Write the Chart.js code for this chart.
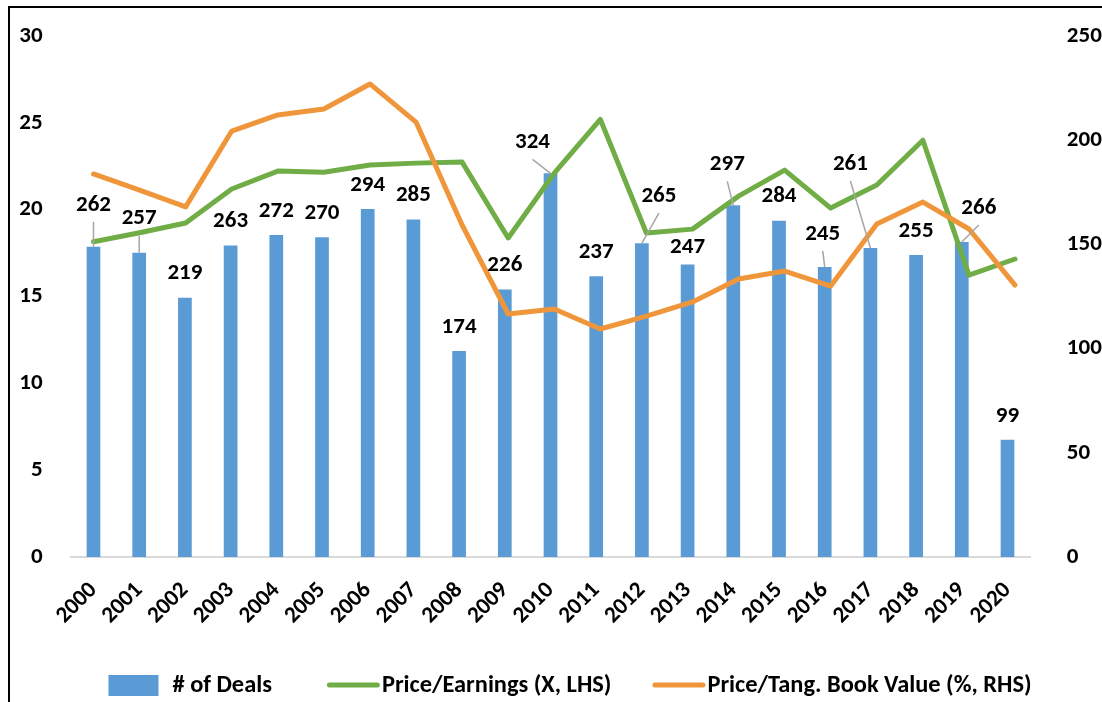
<!DOCTYPE html>
<html>
<head>
<meta charset="utf-8">
<title>Deals and valuation multiples</title>
<script src="https://cdn.jsdelivr.net/npm/chart.js@4.4.1/dist/chart.umd.min.js"></script>
<style>
    html, body { margin: 0; padding: 0; background: #fff; overflow: hidden; }
    .frame {
        position: absolute;
        left: 8px;
        top: 6px;
        width: 1130px;
        height: 720px;
        border-left: 2px solid #000;
        border-top: 2px solid #000;
    }
    #dealsChart { position: absolute; left: 0; top: 0; }
</style>
</head>
<body>
<div class="frame">
    <canvas id="dealsChart" width="1120" height="694"></canvas>
</div>
<script>
const years = ["2000", "2001", "2002", "2003", "2004", "2005", "2006", "2007", "2008", "2009", "2010",
    "2011", "2012", "2013", "2014", "2015", "2016", "2017", "2018", "2019", "2020"];
const deals = [262, 257, 219, 263, 272, 270, 294, 285, 174, 226, 324, 237, 265, 247, 297, 284, 245, 261, 255, 266, 99];
const priceEarnings = [18.15, 18.67, 19.23, 21.19, 22.22, 22.16, 22.57, 22.68, 22.74, 18.37, 22.1,
    25.2, 18.65, 18.88, 20.78, 22.28, 20.09, 21.42, 24.0, 16.23, 17.16];
const priceTangBook = [183.8, 176, 168, 204.4, 212.1, 215, 227, 208.7, 159.3, 116.6, 119,
    109.4, 115.6, 122.4, 133.4, 137.2, 130, 159.8, 170.3, 157.4, 130.5];
const seriesNames = ["# of Deals", "Price/Earnings (X, LHS)", "Price/Tang. Book Value (%, RHS)"];

// where each deal-count label sits relative to its bar: [dx, dy, leader line]
const labelNudge = [
    [0, -18, true], [0, -10, true], [0, 0, false], [0, 0, false], [0, 0, false], [0, 0, false],
    [0, 0, false], [0, 0, false], [0, 0, false], [0, 0, false], [-18, -7, true], [0, 0, false],
    [17, -23, true], [0, 7, false], [-6, -17, true], [0, 0, false], [-2, -9, true], [-20, -60, true],
    [0, 0, false], [17, -10, true], [0, 0, false]
];

const barColor = "#5B9BD5";
const greenColor = "#70AD47";
const orangeColor = "#F0963A";
const fontSize = 23;
const labelFont = `bold ${fontSize}px Carlito`;
const legendFont = "bold 24.4px Carlito";

Chart.defaults.font.family = "Carlito";
Chart.defaults.font.size = fontSize;
Chart.defaults.font.weight = "bold";
Chart.defaults.color = "#000";

const barLabels = {
    id: "barLabels",
    afterDatasetsDraw(chart) {
        const ctx = chart.ctx;
        const meta = chart.getDatasetMeta(0);
        ctx.save();
        ctx.font = labelFont;
        ctx.textAlign = "center";
        ctx.textBaseline = "middle";
        meta.data.forEach((bar, i) => {
            const [dx, dy, leader] = labelNudge[i];
            const lx = bar.x + dx;
            const ly = bar.y - 25 + dy;
            if (leader) {
                ctx.strokeStyle = "#a6a6a6";
                ctx.lineWidth = 1.5;
                ctx.beginPath();
                ctx.moveTo(lx, ly + 18);
                ctx.lineTo(bar.x, bar.y);
                ctx.stroke();
            }
            ctx.fillStyle = "#000";
            ctx.fillText(String(deals[i]), lx, ly + 1);
        });
        ctx.restore();
    }
};

// Excel-style legend along the bottom edge
const bottomLegend = {
    id: "bottomLegend",
    afterDraw(chart) {
        const ctx = chart.ctx;
        const y = 677;
        const gaps = [55, 41];
        ctx.save();
        ctx.font = legendFont;
        ctx.textBaseline = "middle";
        ctx.textAlign = "left";

        const items = chart.data.datasets.map((ds) => {
            const isBar = ds.type === "bar";
            const symbolW = isBar ? 50 : 53;
            const textGap = isBar ? 14 : 2;
            const textW = ctx.measureText(ds.label).width;
            return { ds, isBar, symbolW, textGap, width: symbolW + textGap + textW };
        });
        const total = items.reduce((s, it) => s + it.width, 0) + gaps[0] + gaps[1];
        let x = chart.width / 2 - total / 2;

        items.forEach((it, i) => {
            if (it.isBar) {
                ctx.fillStyle = it.ds.backgroundColor;
                ctx.fillRect(x, y - 10, it.symbolW, 21);
            } else {
                ctx.strokeStyle = it.ds.borderColor;
                ctx.lineWidth = 5;
                ctx.lineCap = "round";
                ctx.beginPath();
                ctx.moveTo(x + 2.5, y);
                ctx.lineTo(x + it.symbolW - 2.5, y);
                ctx.stroke();
            }
            ctx.fillStyle = "#000";
            ctx.fillText(it.ds.label, x + it.symbolW + it.textGap, y + 1);
            x += it.width + (gaps[i] || 0);
        });
        ctx.restore();
    }
};

// fixed axis sizes so the plot area lands where the original one is
function fixWidth(width) {
    return (scale) => {
        scale.width = width;
        scale.paddingTop = 0;
        scale.paddingBottom = 0;
    };
}

const ctx = document.getElementById("dealsChart").getContext("2d");
new Chart(ctx, {
    data: {
        labels: years,
        datasets: [
            {
                type: "bar",
                label: seriesNames[0],
                data: deals,
                backgroundColor: barColor,
                xAxisID: "x",
                yAxisID: "yDeals",
                grouped: false,
                barPercentage: 0.3,
                categoryPercentage: 1,
                order: 3,
            },
            {
                type: "line",
                label: seriesNames[1],
                data: priceEarnings.map((v, i) => ({ x: i, y: v })),
                borderColor: greenColor,
                backgroundColor: greenColor,
                borderWidth: 5,
                borderJoinStyle: "round",
                borderCapStyle: "round",
                pointRadius: 0,
                tension: 0,
                xAxisID: "xLine",
                yAxisID: "y",
                order: 2,
            },
            {
                type: "line",
                label: seriesNames[2],
                data: priceTangBook.map((v, i) => ({ x: i, y: v })),
                borderColor: orangeColor,
                backgroundColor: orangeColor,
                borderWidth: 5,
                borderJoinStyle: "round",
                borderCapStyle: "round",
                pointRadius: 0,
                tension: 0,
                xAxisID: "xLine",
                yAxisID: "y2",
                order: 1,
            },
        ],
    },
    options: {
        responsive: false,
        animation: false,
        layout: { padding: { top: 28, bottom: 40, left: 0, right: 0 } },
        plugins: {
            legend: { display: false },
            tooltip: { enabled: false },
        },
        scales: {
            x: {
                type: "category",
                offset: true,
                grid: { display: false },
                border: { display: true, color: "#d9d9d9", width: 2 },
                ticks: { autoSkip: false, minRotation: 45, maxRotation: 45, padding: 12 },
                afterFit: (scale) => {
                    scale.height = 105;
                    scale.paddingLeft = 0;
                    scale.paddingRight = 0;
                },
            },
            xLine: {
                type: "linear",
                display: false,
                min: -0.496,
                max: 20.333,
            },
            y: {
                position: "left",
                min: 0,
                max: 30,
                ticks: { stepSize: 5, padding: 20 },
                grid: { display: false },
                border: { display: false },
                afterFit: fixWidth(60.65),
            },
            y2: {
                position: "right",
                min: 0,
                max: 250,
                ticks: { stepSize: 50, padding: 28.5 },
                grid: { display: false },
                border: { display: false },
                afterFit: fixWidth(99.65),
            },
            yDeals: {
                display: false,
                min: 0,
                max: 440,
            },
        },
    },
    plugins: [barLabels, bottomLegend],
});
</script>
</body>
</html>
